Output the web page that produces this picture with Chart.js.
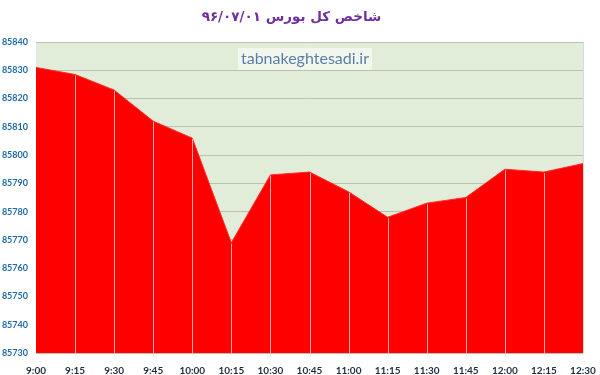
<!DOCTYPE html>
<html lang="fa">
<head>
    <meta charset="UTF-8">
    <title>شاخص کل بورس</title>
    <style>
        html, body { margin: 0; padding: 0; background: #fff; }
        #wrap { width: 600px; height: 375px; }
    </style>
</head>
<body>

<div id="wrap">
    <canvas id="chart" width="600" height="375" dir="rtl"></canvas>
</div>

<script src="https://cdn.jsdelivr.net/npm/chart.js@4.4.0/dist/chart.umd.min.js"></script>
<script>
    const titleText = 'شاخص کل بورس ۹۶/۰۷/۰۱';
    const watermark = 'tabnakeghtesadi.ir';

    const times = ['9:00', '9:15', '9:30', '9:45', '10:00', '10:15', '10:30', '10:45',
                   '11:00', '11:15', '11:30', '11:45', '12:00', '12:15', '12:30'];
    const indexValues = [85831, 85828.5, 85823, 85812, 85806, 85769, 85793, 85794,
                         85787, 85778, 85783, 85785, 85795, 85794, 85797];

    const yMin = 85730, yMax = 85840, yStep = 10;

    // green plot background + watermark box
    const plotBg = {
        id: 'plotBg',
        beforeDraw(chart) {
            const { ctx, chartArea: a } = chart;
            ctx.save();
            ctx.fillStyle = '#e2edd9';
            ctx.fillRect(a.left, a.top, a.right - a.left, a.bottom - a.top);
            ctx.restore();
        },
        afterDraw(chart) {
            const { ctx, chartArea: a } = chart;
            ctx.save();
            ctx.direction = 'ltr';
            ctx.font = '16px Lato';
            const w = ctx.measureText(watermark).width;
            const cx = 305, cy = 59;
            ctx.fillStyle = 'rgba(255,255,255,0.55)';
            ctx.fillRect(cx - w / 2 - 3, cy - 11, w + 6, 22);
            ctx.fillStyle = '#5a7fa6';
            ctx.textAlign = 'center';
            ctx.textBaseline = 'middle';
            ctx.fillText(watermark, cx, cy);
            // light frame at right edge
            ctx.strokeStyle = '#d6dccf';
            ctx.lineWidth = 1;
            ctx.beginPath();
            ctx.moveTo(a.right + 0.5, a.top);
            ctx.lineTo(a.right + 0.5, a.bottom);
            ctx.stroke();
            ctx.restore();
        }
    };

    // light drop lines from each point down to the axis
    const dropLines = {
        id: 'dropLines',
        afterDatasetsDraw(chart) {
            const { ctx, chartArea: a } = chart;
            const pts = chart.getDatasetMeta(0).data;
            ctx.save();
            ctx.strokeStyle = 'rgba(255,190,190,0.9)';
            ctx.lineWidth = 1;
            pts.forEach((p, i) => {
                if (i === 0 || i === pts.length - 1) return;
                const x = Math.round(p.x) + 0.5;
                ctx.beginPath();
                ctx.moveTo(x, p.y + 1);
                ctx.lineTo(x, a.bottom);
                ctx.stroke();
            });
            ctx.restore();
        }
    };

    new Chart(document.getElementById('chart'), {
        type: 'line',
        data: {
            labels: times,
            datasets: [{
                data: indexValues,
                fill: 'start',
                backgroundColor: '#ff0000',
                borderColor: '#ff2a2a',
                borderWidth: 1,
                pointRadius: 0,
                tension: 0
            }]
        },
        options: {
            responsive: false,
            animation: false,
            layout: { padding: { right: 17, left: 0, bottom: 0 } },
            plugins: {
                legend: { display: false },
                tooltip: { enabled: false },
                title: {
                    display: true,
                    text: titleText,
                    color: '#7030a0',
                    font: { family: 'DejaVu Sans', size: 13.5, weight: 'bold', lineHeight: 1.2 },
                    padding: { top: 9, bottom: 16.8 }
                }
            },
            scales: {
                x: {
                    offset: false,
                    grid: { display: false },
                    border: { display: false },
                    ticks: {
                        color: '#1f2d3d',
                        font: { family: 'Lato', size: 10, weight: 'bold' },
                        maxRotation: 0,
                        autoSkip: false,
                        padding: 4
                    },
                    afterFit(s) { s.height = 22; }
                },
                y: {
                    min: yMin,
                    max: yMax,
                    grid: { color: '#b9c1b0', lineWidth: 1, drawTicks: false },
                    border: { display: false },
                    ticks: {
                        stepSize: yStep,
                        color: '#1f6aa8',
                        font: { family: 'Lato', size: 9, weight: 'bold' },
                        padding: 8,
                        callback: v => String(v)
                    },
                    afterFit(s) { s.width = 36; }
                }
            }
        },
        plugins: [plotBg, dropLines]
    });
</script>

</body>
</html>
